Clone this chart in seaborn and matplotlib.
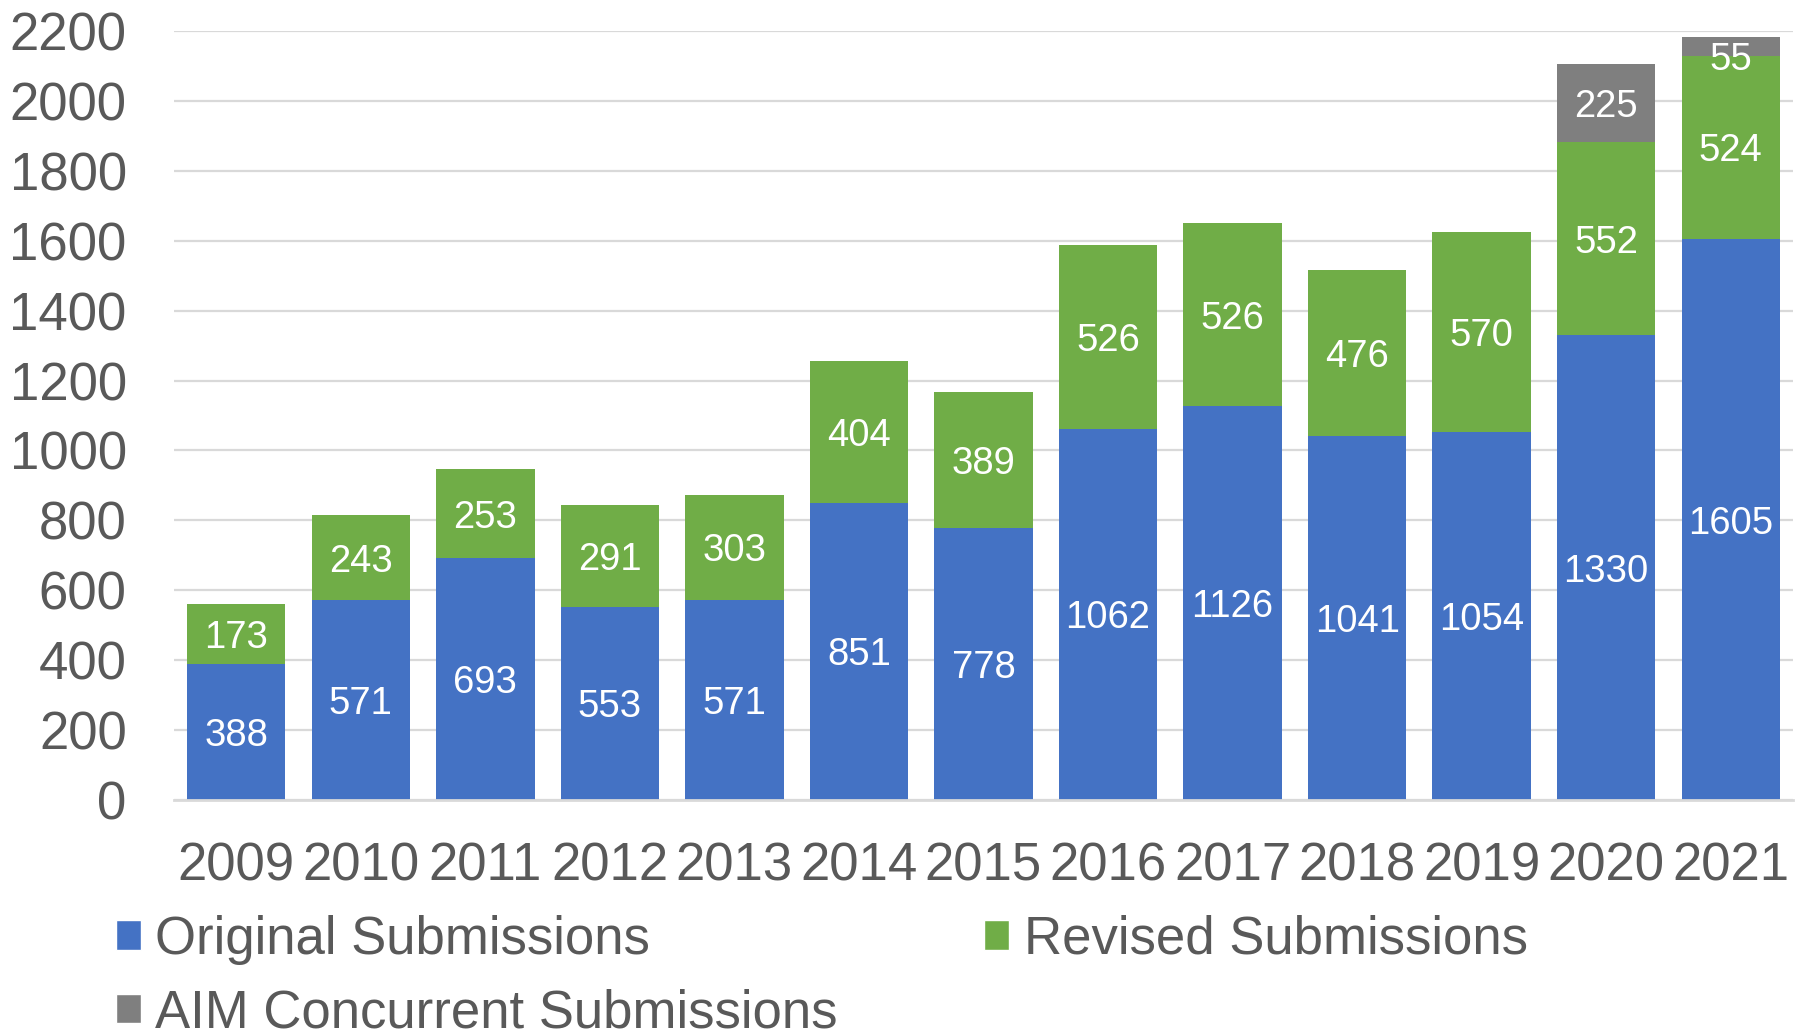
import matplotlib
matplotlib.use("Agg")
import matplotlib.pyplot as plt
from matplotlib.patches import Patch
import numpy as np
import pandas as pd
import seaborn as sns

years = ["2009", "2010", "2011", "2012", "2013", "2014", "2015",
         "2016", "2017", "2018", "2019", "2020", "2021"]
original = [388, 571, 693, 553, 571, 851, 778, 1062, 1126, 1041, 1054, 1330, 1605]
revised = [173, 243, 253, 291, 303, 404, 389, 526, 526, 476, 570, 552, 524]
aim = [0, 0, 0, 0, 0, 0, 0, 0, 0, 0, 0, 225, 55]

series_names = ["Original Submissions", "Revised Submissions", "AIM Concurrent Submissions"]
colors = ["#4472C4", "#70AD47", "#7F7F7F"]
text_gray = "#595959"
grid_gray = "#D9D9D9"

sns.set_theme(style="white")
plt.rcParams["font.family"] = ["Liberation Sans", "DejaVu Sans"]

df = pd.DataFrame({"year": years, "original": original, "revised": revised, "aim": aim})
df["lvl1"] = df["original"]
df["lvl2"] = df["original"] + df["revised"]
df["lvl3"] = df["lvl2"] + df["aim"]

fig = plt.figure(figsize=(17.97, 10.36), dpi=100)
ax = fig.add_axes([0.0968, 0.2278, 0.9010, 0.7422])

y_top = 2200
bar_w = 0.79
# stacked bars: draw cumulative totals from the top layer down
for col, c in zip(["lvl3", "lvl2", "lvl1"], colors[::-1]):
    sns.barplot(data=df, x="year", y=col, order=years, color=c, width=bar_w,
                saturation=1, edgecolor="none", linewidth=0, ax=ax, zorder=3)

# value labels centered in each segment, kept clear of the top edge
label_kw = dict(ha="center", va="center_baseline", color="white", fontsize=27.5, zorder=5)
for i in range(len(years)):
    ax.text(i, original[i] / 2, str(original[i]), **label_kw)
    ax.text(i, original[i] + revised[i] / 2, str(revised[i]), **label_kw)
    if aim[i] > 0:
        yc = min(original[i] + revised[i] + aim[i] / 2, y_top - 72)
        ax.text(i, yc, str(aim[i]), **label_kw)

ax.set_xlim(-0.5, len(years) - 0.5)
ax.set_ylim(0, y_top)
ax.set_yticks(np.arange(0, y_top + 1, 200))
ax.yaxis.grid(True, color=grid_gray, linewidth=1.6, zorder=0)
ax.set_axisbelow(True)
for s in ["top", "right", "left"]:
    ax.spines[s].set_visible(False)
ax.spines["bottom"].set_color(grid_gray)
ax.spines["bottom"].set_linewidth(2)
ax.spines["bottom"].set_zorder(4)
ax.tick_params(axis="y", length=0, pad=34, labelsize=38, labelcolor=text_gray)
ax.tick_params(axis="x", length=0, pad=30, labelsize=38, labelcolor=text_gray)
ax.set_xlabel("")
ax.set_ylabel("")

handles = [Patch(facecolor=colors[0], label=series_names[0]),
           Patch(facecolor=colors[2], label=series_names[2]),
           Patch(facecolor=colors[1], label=series_names[1])]
leg = fig.legend(handles=handles, loc="upper left", bbox_to_anchor=(0.0645, 0.117),
                 ncol=2, frameon=False, fontsize=38, handlelength=0.47, handleheight=0.47,
                 handletextpad=0.28, columnspacing=2.77, labelspacing=0.44,
                 borderaxespad=0, borderpad=0)
for t in leg.get_texts():
    t.set_color(text_gray)

fig.savefig("out.png", dpi=100)
